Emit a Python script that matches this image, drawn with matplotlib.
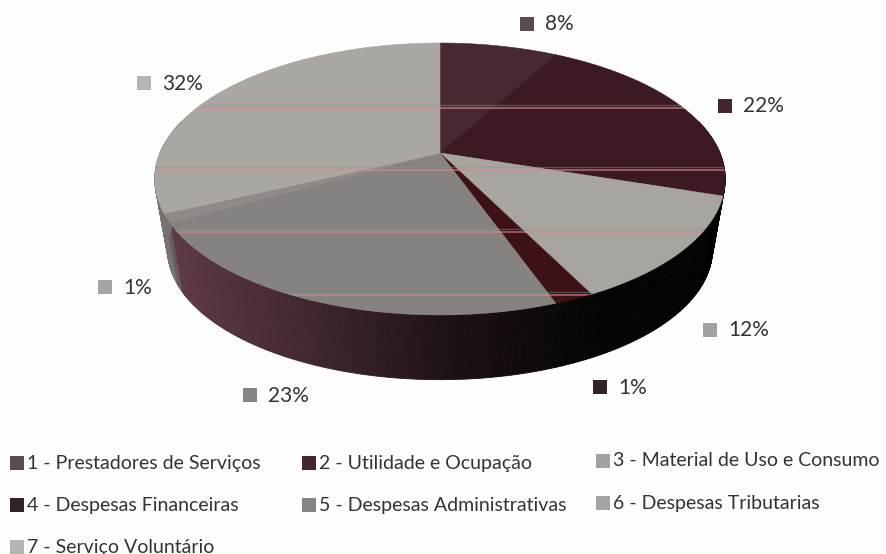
import numpy as np
import matplotlib
matplotlib.use("Agg")
import matplotlib.pyplot as plt
from matplotlib.colors import to_rgb
from matplotlib.collections import PolyCollection
from matplotlib.patches import Polygon

categories = ["1 - Prestadores de Serviços", "2 - Utilidade e Ocupação",
              "3 - Material de Uso e Consumo", "4 - Despesas Financeiras",
              "5 - Despesas Administrativas", "6 - Despesas Tributarias",
              "7 - Serviço Voluntário"]
# slice sizes as measured on the picture, the printed labels are rounded
shares = [8, 22, 12.6, 1.9, 22.5, 1, 32]
pct_labels = ["8%", "22%", "12%", "1%", "23%", "1%", "32%"]

top_colors = ["#48292f", "#3c1a21", "#a8a4a0", "#3c1217", "#868280", "#8f8a88", "#aaa6a2"]
side_colors = ["#5e3a42", "#5e3a42", "#5e3a42", "#5e3a42", "#5e3a42", "#6a5a5c", "#777270"]
mark_colors = ["#5b4a50", "#46262d", "#a2a2a0", "#33222a", "#858585", "#a4a4a2", "#b4b4b2"]

# layout in image pixels
label_mark_xy = [(527, 24), (725, 106), (710, 330), (600, 387), (250, 395), (105, 287), (144, 83)]
legend_mark_xy = [(17, 463), (309, 463), (603, 461), (17, 505), (309, 505), (603, 503), (17, 547)]
apex_x, apex_y = 440, 153
sx, sy, k = 280, 131, 0.191
depth, shrink = 72, 0.955
scan_lines = [108, 170, 232, 295]


def project_pt(theta, lower=False):
    # clockwise angle from the top of the disc, mild perspective towards the back
    u, v = np.sin(theta), np.cos(theta)
    w = 1 + k * v
    x, y = sx * u / w, sy * v / w
    if lower:
        return apex_x + shrink * x, apex_y + depth - shrink * y
    return apex_x + x, apex_y - y


fig = plt.figure(figsize=(8.87, 5.54), dpi=100, facecolor="#fdfdfc")
ax = fig.add_axes([0, 0, 1, 1])
ax.set_xlim(0, 887)
ax.set_ylim(554, 0)
ax.axis("off")

edges = np.cumsum([0] + shares) / sum(shares) * 2 * np.pi

# side wall, dark on the right and lighter towards the left
quads, quad_colors = [], []
for i in range(len(shares)):
    t = np.linspace(edges[i], edges[i + 1], max(2, int(shares[i] * 4)))
    for a, b in zip(t[:-1], t[1:]):
        if np.cos((a + b) / 2) > 0.25:
            continue
        p1 = project_pt(a)
        p2 = project_pt(b)
        p3 = project_pt(b, True)
        p4 = project_pt(a, True)
        shade = np.interp((p1[0] + p2[0]) / 2, [165, 300, 450, 600, 725], [1.0, 0.7, 0.3, 0.06, 0.03])
        quads.append([p1, p2, p3, p4])
        quad_colors.append(tuple(c * shade for c in to_rgb(side_colors[i])))
ax.add_collection(PolyCollection(quads, facecolors=quad_colors, edgecolors=quad_colors, linewidths=0.6, zorder=1))

# top surface
for i in range(len(shares)):
    t = np.linspace(edges[i], edges[i + 1], max(2, int(shares[i] * 4)))
    xs, ys = project_pt(t)
    pts = np.column_stack([np.r_[apex_x, xs], np.r_[apex_y, ys]])
    ax.add_patch(Polygon(pts, closed=True, facecolor=top_colors[i], edgecolor=top_colors[i], linewidth=0.4, zorder=2))

# scanner streaks across the pie
t = np.linspace(0, 2 * np.pi, 200)
tx, ty = project_pt(t)
sil = Polygon(np.column_stack([tx, ty]), closed=True, facecolor="none", edgecolor="none")
ax.add_patch(sil)
for y in scan_lines:
    ln1, = ax.plot([100, 780], [y, y], color="#d98a8a", lw=1.4, alpha=0.6, zorder=3)
    ln2, = ax.plot([100, 780], [y - 3, y - 3], color="#6fa0a0", lw=0.9, alpha=0.45, zorder=3)
    ln1.set_clip_path(sil)
    ln2.set_clip_path(sil)

font = "Lato"
for (x, y), c, s in zip(label_mark_xy, mark_colors, pct_labels):
    ax.scatter([x], [y], s=90, marker="s", color=c, linewidths=0, zorder=4)
    ax.text(x + 18, y + 0.5, s, fontsize=15, family=font, color="#333333", va="center", ha="left", zorder=4)

for (x, y), c, s in zip(legend_mark_xy, mark_colors, categories):
    ax.scatter([x], [y], s=90, marker="s", color=c, linewidths=0, zorder=4)
    ax.text(x + 10, y, s, fontsize=14, family=font, color="#333333", va="center", ha="left", zorder=4)

fig.savefig("out.png", dpi=100, facecolor=fig.get_facecolor())
